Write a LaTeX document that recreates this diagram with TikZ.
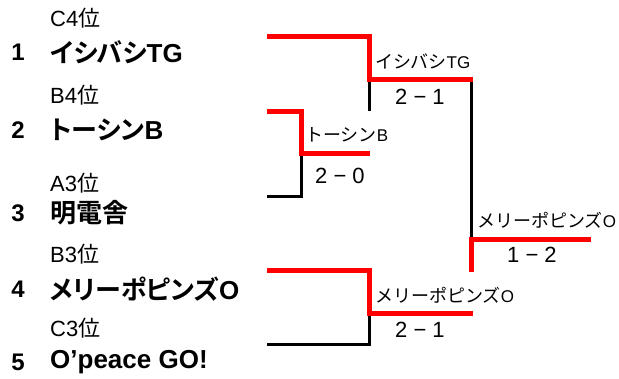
\documentclass[tikz,border=0pt]{standalone}
\usepackage{fontspec}
\setmainfont{Liberation Sans}
\newfontfamily\jp[RawFeature=+palt,BoldFont={Noto Sans CJK JP Bold}]{Noto Sans CJK JP}
\newfontfamily\jpfw{Noto Sans CJK JP}
\newcommand\kana[1]{{\fontsize{18}{20}\selectfont\jpfw #1}}
\definecolor{winred}{RGB}{255,0,0}

\begin{document}
\begin{tikzpicture}[x=1pt,y=-1pt,
  team/.style={anchor=west,inner sep=0pt,font=\fontsize{26}{28}\selectfont\bfseries},
  seed/.style={inner sep=0pt,font=\fontsize{24}{26}\selectfont\bfseries},
  rank/.style={anchor=west,inner sep=0pt,font=\fontsize{22}{24}\selectfont},
  res/.style={anchor=west,inner sep=0pt,font=\fontsize{17}{19}\selectfont},
  score/.style={anchor=west,inner sep=0pt,font=\fontsize{22}{24}\selectfont},
  win/.style={draw=winred,line width=5pt},
  lose/.style={draw=black,line width=3pt}]
\useasboundingbox (0,0) rectangle (619,379);

% entries
\node[rank] (r1) at (50,18) {C4{\jp 位}};
\node[seed] (n1) at (18,52) {1};
\node[team] (e1) at (50,52) {{\jp イシバシ}TG};
\node[rank] (r2) at (50,95) {B4{\jp 位}};
\node[seed] (n2) at (18,130) {2};
\node[team] (e2) at (50,130) {{\jp トーシン}B};
\node[rank] (r3) at (50,183) {A3{\jp 位}};
\node[seed] (n3) at (18,213) {3};
\node[team] (e3) at (50,213) {{\jp 明電舎}};
\node[rank] (r4) at (50,254) {B3{\jp 位}};
\node[seed] (n4) at (18,289) {4};
\node[team] (e4) at (50,289) {{\jp メリーポピンズ}O};
\node[rank] (r5) at (50,328) {C3{\jp 位}};
\node[seed] (n5) at (18,362) {5};
\node[team] (e5) at (50,362) {O’peace GO!};

% bracket
\coordinate (t1) at (267,37);
\coordinate (t2) at (267,112);
\coordinate (t3) at (267,197);
\coordinate (t4) at (267,271);
\coordinate (t5) at (267,345);
\coordinate (q1) at (301,154);
\coordinate (q2) at (370,154);
\coordinate (s1) at (369,80);
\coordinate (s2) at (369,314);
\coordinate (s3) at (369,111);
\coordinate (u1) at (471,80);
\coordinate (u2) at (471,314);
\coordinate (f1) at (471,238);
\coordinate (f2) at (471,272);
\coordinate (f3) at (591,240);

\draw[lose] (q1) |- (t3);
\draw[lose] (s1) -- (s3);
\draw[lose] (s2) |- (t5);
\draw[lose] (u1) -- (f1);
\draw[win] (t2) -| (q1) -- (q2);
\draw[win] (t1) -| (s1) -- ([xshift=2pt]u1);
\draw[win] (t4) -| (s2) -- ([xshift=2pt]u2);
\draw[win] (f2) |- (f3);

% results
\node[res] (w1) at (375,61) {\kana{イシバシ}TG};
\node[score] (p1) at (395,97) {2 − 1};
\node[res] (w2) at (305,135) {\kana{トーシン}B};
\node[score] (p2) at (315,176) {2 − 0};
\node[res] (w3) at (477,220) {\kana{メリーポピンズ}O};
\node[score] (p3) at (507,255) {1 − 2};
\node[res] (w4) at (375,295) {\kana{メリーポピンズ}O};
\node[score] (p4) at (395,330) {2 − 1};
\end{tikzpicture}
\end{document}
